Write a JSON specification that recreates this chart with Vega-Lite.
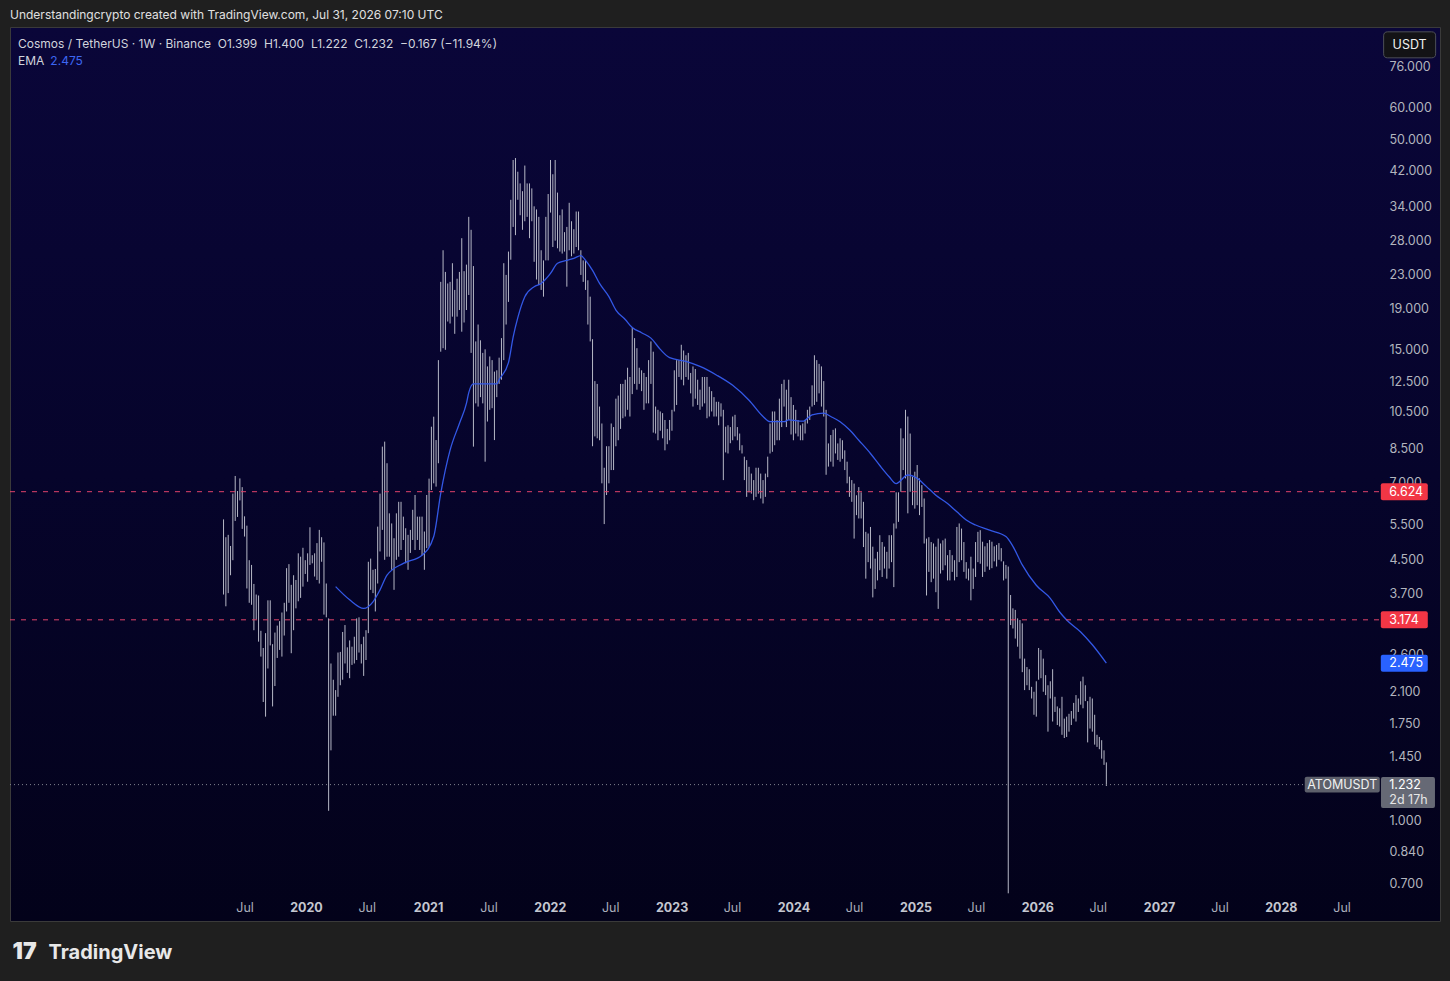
{
  "$schema": "https://vega.github.io/schema/vega-lite/v6.json",
  "width": 1430,
  "height": 894,
  "autosize": "none",
  "padding": {"left": 10, "top": 27, "right": 10, "bottom": 60},
  "background": "#1f1f1f",
  "title": {
    "text": "Understandingcrypto created with TradingView.com, Jul 31, 2026 07:10 UTC",
    "anchor": "start", "frame": "group", "offset": 5,
    "font": "Inter", "fontSize": 12, "fontWeight": "normal", "color": "#e0e0e0"
  },
  "config": {
    "font": "Inter",
    "view": {
      "stroke": "#3a3a3a",
      "fill": {"gradient": "linear", "x1": 0, "y1": 0, "x2": 0, "y2": 1,
        "stops": [{"offset": 0, "color": "#0a0639"}, {"offset": 0.5, "color": "#06042b"}, {"offset": 1, "color": "#03021a"}]}
    }
  },
  "datasets": {
    "bars": [
      {"d":"2019-04-29","h":5.65,"l":3.67},{"d":"2019-05-06","h":5.1,"l":3.43},{"d":"2019-05-13","h":5.17,"l":3.7},{"d":"2019-05-20","h":4.85,"l":4.1},
      {"d":"2019-05-27","h":6.55,"l":4.47},{"d":"2019-06-03","h":7.25,"l":5.6},{"d":"2019-06-10","h":6.65,"l":5.73},{"d":"2019-06-17","h":7.15,"l":6.3},
      {"d":"2019-06-24","h":6.8,"l":5.35},{"d":"2019-07-01","h":5.75,"l":5.12},{"d":"2019-07-08","h":5.45,"l":3.8},{"d":"2019-07-15","h":4.47,"l":3.5},
      {"d":"2019-07-22","h":4.35,"l":3.46},{"d":"2019-07-29","h":3.9,"l":2.99},{"d":"2019-08-05","h":3.67,"l":3.18},{"d":"2019-08-12","h":3.65,"l":2.8},
      {"d":"2019-08-19","h":2.98,"l":2.57},{"d":"2019-08-26","h":2.7,"l":1.98},{"d":"2019-09-02","h":2.94,"l":1.82},{"d":"2019-09-09","h":3.55,"l":2.4},
      {"d":"2019-09-16","h":3.55,"l":2.74},{"d":"2019-09-23","h":2.76,"l":1.93},{"d":"2019-09-30","h":2.95,"l":2.17},{"d":"2019-10-07","h":3.07,"l":2.55},
      {"d":"2019-10-14","h":3.15,"l":2.67},{"d":"2019-10-21","h":3.31,"l":2.57},{"d":"2019-10-28","h":3.5,"l":2.9},{"d":"2019-11-04","h":4.27,"l":3.33},
      {"d":"2019-11-11","h":4.37,"l":3.5},{"d":"2019-11-18","h":3.88,"l":2.62},{"d":"2019-11-25","h":4.1,"l":2.99},{"d":"2019-12-02","h":3.99,"l":3.39},
      {"d":"2019-12-09","h":4.65,"l":3.53},{"d":"2019-12-16","h":4.56,"l":3.6},{"d":"2019-12-23","h":4.8,"l":3.84},{"d":"2019-12-30","h":4.47,"l":4.13},
      {"d":"2020-01-06","h":4.65,"l":3.95},{"d":"2020-01-13","h":5.4,"l":4.35},{"d":"2020-01-20","h":4.6,"l":4.39},{"d":"2020-01-27","h":4.65,"l":4.07},
      {"d":"2020-02-03","h":4.93,"l":3.99},{"d":"2020-02-10","h":5.32,"l":3.91},{"d":"2020-02-17","h":5.1,"l":4.43},{"d":"2020-02-24","h":4.95,"l":3.27},
      {"d":"2020-03-02","h":3.91,"l":3.22},{"d":"2020-03-09","h":3.2,"l":1.06},{"d":"2020-03-16","h":2.47,"l":1.5},{"d":"2020-03-23","h":2.25,"l":1.83},
      {"d":"2020-03-30","h":2.12,"l":1.83},{"d":"2020-04-06","h":2.63,"l":2.04},{"d":"2020-04-13","h":2.64,"l":2.18},{"d":"2020-04-20","h":2.96,"l":2.25},
      {"d":"2020-04-27","h":3.08,"l":2.47},{"d":"2020-05-04","h":2.71,"l":2.34},{"d":"2020-05-11","h":2.82,"l":2.27},{"d":"2020-05-18","h":2.72,"l":2.45},
      {"d":"2020-05-25","h":2.88,"l":2.47},{"d":"2020-06-01","h":3.2,"l":2.52},{"d":"2020-06-08","h":3.22,"l":2.63},{"d":"2020-06-15","h":2.76,"l":2.47},
      {"d":"2020-06-22","h":2.88,"l":2.3},{"d":"2020-06-29","h":2.99,"l":2.52},{"d":"2020-07-06","h":4.43,"l":2.94},{"d":"2020-07-13","h":4.51,"l":3.77},
      {"d":"2020-07-20","h":4.23,"l":3.7},{"d":"2020-07-27","h":4.25,"l":3.33},{"d":"2020-08-03","h":5.42,"l":3.91},{"d":"2020-08-10","h":6.55,"l":4.7},
      {"d":"2020-08-17","h":8.58,"l":5.32},{"d":"2020-08-24","h":8.83,"l":4.48},{"d":"2020-08-31","h":7.8,"l":4.56},{"d":"2020-09-07","h":5.85,"l":4.56},
      {"d":"2020-09-14","h":5.52,"l":4.23},{"d":"2020-09-21","h":5.07,"l":3.77},{"d":"2020-09-28","h":5.85,"l":4.48},{"d":"2020-10-05","h":6.25,"l":4.56},
      {"d":"2020-10-12","h":6.25,"l":4.74},{"d":"2020-10-19","h":5.74,"l":5.02},{"d":"2020-10-26","h":5.37,"l":4.39},{"d":"2020-11-02","h":5.17,"l":4.23},
      {"d":"2020-11-09","h":5.32,"l":4.66},{"d":"2020-11-16","h":5.97,"l":5.02},{"d":"2020-11-23","h":6.5,"l":4.74},{"d":"2020-11-30","h":5.74,"l":5.02},
      {"d":"2020-12-07","h":5.74,"l":4.74},{"d":"2020-12-14","h":5.74,"l":4.6},{"d":"2020-12-21","h":5.27,"l":4.23},{"d":"2020-12-28","h":6.5,"l":4.79},
      {"d":"2021-01-04","h":7.14,"l":4.83},{"d":"2021-01-11","h":9.62,"l":6.69},{"d":"2021-01-18","h":10.19,"l":6.95},{"d":"2021-01-25","h":8.91,"l":6.82},
      {"d":"2021-02-01","h":14.1,"l":7.8},{"d":"2021-02-08","h":22.1,"l":14.8},{"d":"2021-02-15","h":26.5,"l":15.1},{"d":"2021-02-22","h":23.4,"l":14.96},
      {"d":"2021-03-01","h":21.9,"l":17.6},{"d":"2021-03-08","h":22.1,"l":17.4},{"d":"2021-03-15","h":24.6,"l":18.1},{"d":"2021-03-22","h":21.1,"l":16.4},
      {"d":"2021-03-29","h":22.5,"l":18.1},{"d":"2021-04-05","h":23.4,"l":18.8},{"d":"2021-04-12","h":28.4,"l":16.6},{"d":"2021-04-19","h":23.5,"l":17.5},
      {"d":"2021-04-26","h":24.4,"l":18.8},{"d":"2021-05-03","h":32.1,"l":20.5},{"d":"2021-05-10","h":29.8,"l":14.7},{"d":"2021-05-17","h":24.2,"l":8.58},
      {"d":"2021-05-24","h":15.7,"l":11.0},{"d":"2021-05-31","h":17.3,"l":10.8},{"d":"2021-06-07","h":15.8,"l":11.4},{"d":"2021-06-14","h":14.7,"l":11.0},
      {"d":"2021-06-21","h":15.0,"l":7.87},{"d":"2021-06-28","h":13.6,"l":9.91},{"d":"2021-07-05","h":14.4,"l":10.6},{"d":"2021-07-12","h":14.1,"l":10.7},
      {"d":"2021-07-19","h":13.2,"l":8.91},{"d":"2021-07-26","h":13.3,"l":11.4},{"d":"2021-08-02","h":14.3,"l":12.3},{"d":"2021-08-09","h":16.0,"l":12.6},
      {"d":"2021-08-16","h":24.6,"l":14.1},{"d":"2021-08-23","h":23.0,"l":17.3},{"d":"2021-08-30","h":26.3,"l":19.7},{"d":"2021-09-06","h":35.4,"l":25.1},
      {"d":"2021-09-13","h":44.5,"l":30.3},{"d":"2021-09-20","h":45.0,"l":28.9},{"d":"2021-09-27","h":41.6,"l":35.4},{"d":"2021-10-04","h":38.9,"l":32.4},
      {"d":"2021-10-11","h":37.2,"l":29.8},{"d":"2021-10-18","h":43.1,"l":31.3},{"d":"2021-10-25","h":38.9,"l":32.1},{"d":"2021-11-01","h":38.9,"l":28.4},
      {"d":"2021-11-08","h":37.8,"l":31.3},{"d":"2021-11-15","h":34.1,"l":24.8},{"d":"2021-11-22","h":33.5,"l":22.4},{"d":"2021-11-29","h":32.1,"l":21.7},
      {"d":"2021-12-06","h":26.5,"l":21.1},{"d":"2021-12-13","h":25.0,"l":20.3},{"d":"2021-12-20","h":32.1,"l":25.0},{"d":"2021-12-27","h":36.6,"l":25.0},
      {"d":"2022-01-03","h":44.5,"l":32.9},{"d":"2022-01-10","h":41.0,"l":27.0},{"d":"2022-01-17","h":44.5,"l":28.0},{"d":"2022-01-24","h":36.9,"l":26.8},
      {"d":"2022-01-31","h":32.4,"l":26.3},{"d":"2022-02-07","h":33.5,"l":26.0},{"d":"2022-02-14","h":29.4,"l":26.3},{"d":"2022-02-21","h":30.3,"l":21.5},
      {"d":"2022-02-28","h":34.8,"l":26.5},{"d":"2022-03-07","h":31.3,"l":25.6},{"d":"2022-03-14","h":29.9,"l":26.0},{"d":"2022-03-21","h":33.1,"l":27.0},
      {"d":"2022-03-28","h":33.1,"l":26.5},{"d":"2022-04-04","h":26.5,"l":23.0},{"d":"2022-04-11","h":25.0,"l":22.1},{"d":"2022-04-18","h":25.0,"l":21.1},
      {"d":"2022-04-25","h":22.3,"l":17.3},{"d":"2022-05-02","h":20.3,"l":15.7},{"d":"2022-05-09","h":15.9,"l":8.6},{"d":"2022-05-16","h":12.5,"l":9.1},
      {"d":"2022-05-23","h":12.3,"l":9.0},{"d":"2022-05-30","h":10.8,"l":8.9},{"d":"2022-06-06","h":9.8,"l":6.95},{"d":"2022-06-13","h":7.6,"l":5.5},
      {"d":"2022-06-20","h":8.6,"l":6.5},{"d":"2022-06-27","h":8.6,"l":6.95},{"d":"2022-07-04","h":9.8,"l":7.5},{"d":"2022-07-11","h":9.6,"l":7.5},
      {"d":"2022-07-18","h":11.3,"l":8.6},{"d":"2022-07-25","h":11.5,"l":8.9},{"d":"2022-08-01","h":12.3,"l":9.5},{"d":"2022-08-08","h":12.3,"l":10.1},
      {"d":"2022-08-15","h":12.6,"l":10.2},{"d":"2022-08-22","h":13.5,"l":10.6},{"d":"2022-08-29","h":12.8,"l":10.2},{"d":"2022-09-05","h":17.0,"l":11.6},
      {"d":"2022-09-12","h":16.0,"l":12.3},{"d":"2022-09-19","h":15.1,"l":11.9},{"d":"2022-09-26","h":13.5,"l":12.3},{"d":"2022-10-03","h":13.3,"l":11.8},
      {"d":"2022-10-10","h":13.1,"l":10.6},{"d":"2022-10-17","h":12.8,"l":11.0},{"d":"2022-10-24","h":14.1,"l":11.0},{"d":"2022-10-31","h":15.7,"l":12.3},
      {"d":"2022-11-07","h":14.8,"l":9.3},{"d":"2022-11-14","h":10.8,"l":9.25},{"d":"2022-11-21","h":10.6,"l":8.9},{"d":"2022-11-28","h":10.5,"l":9.4},
      {"d":"2022-12-05","h":10.4,"l":9.0},{"d":"2022-12-12","h":10.0,"l":8.4},{"d":"2022-12-19","h":9.5,"l":8.7},{"d":"2022-12-26","h":10.0,"l":8.9},
      {"d":"2023-01-02","h":10.6,"l":9.4},{"d":"2023-01-09","h":13.3,"l":10.5},{"d":"2023-01-16","h":14.1,"l":10.9},{"d":"2023-01-23","h":14.1,"l":12.8},
      {"d":"2023-01-30","h":15.4,"l":12.6},{"d":"2023-02-06","h":14.9,"l":12.2},{"d":"2023-02-13","h":14.5,"l":12.8},{"d":"2023-02-20","h":14.7,"l":12.6},
      {"d":"2023-02-27","h":13.1,"l":11.65},{"d":"2023-03-06","h":13.6,"l":10.8},{"d":"2023-03-13","h":13.4,"l":11.3},{"d":"2023-03-20","h":12.6,"l":10.9},
      {"d":"2023-03-27","h":11.9,"l":10.6},{"d":"2023-04-03","h":12.8,"l":10.8},{"d":"2023-04-10","h":12.8,"l":11.0},{"d":"2023-04-17","h":12.8,"l":10.1},
      {"d":"2023-04-24","h":12.1,"l":10.2},{"d":"2023-05-01","h":11.8,"l":10.5},{"d":"2023-05-08","h":11.4,"l":10.2},{"d":"2023-05-15","h":11.1,"l":10.2},
      {"d":"2023-05-22","h":11.1,"l":9.7},{"d":"2023-05-29","h":11.0,"l":10.2},{"d":"2023-06-05","h":10.6,"l":7.08},{"d":"2023-06-12","h":9.62,"l":8.3},
      {"d":"2023-06-19","h":9.7,"l":8.25},{"d":"2023-06-26","h":9.6,"l":8.75},{"d":"2023-07-03","h":10.2,"l":8.9},{"d":"2023-07-10","h":10.3,"l":9.1},
      {"d":"2023-07-17","h":9.6,"l":8.9},{"d":"2023-07-24","h":9.25,"l":8.4},{"d":"2023-07-31","h":8.65,"l":8.25},{"d":"2023-08-07","h":8.1,"l":7.08},
      {"d":"2023-08-14","h":7.94,"l":6.43},{"d":"2023-08-21","h":7.64,"l":6.6},{"d":"2023-08-28","h":7.35,"l":6.55},{"d":"2023-09-04","h":7.08,"l":6.31},
      {"d":"2023-09-11","h":7.6,"l":6.43},{"d":"2023-09-18","h":7.6,"l":6.55},{"d":"2023-09-25","h":7.35,"l":6.37},{"d":"2023-10-02","h":7.08,"l":6.19},
      {"d":"2023-10-09","h":7.35,"l":6.43},{"d":"2023-10-16","h":8.1,"l":7.2},{"d":"2023-10-23","h":9.8,"l":8.25},{"d":"2023-10-30","h":10.5,"l":8.33},
      {"d":"2023-11-06","h":10.5,"l":8.65},{"d":"2023-11-13","h":10.0,"l":8.9},{"d":"2023-11-20","h":11.3,"l":8.9},{"d":"2023-11-27","h":12.3,"l":9.6},
      {"d":"2023-12-04","h":12.6,"l":10.8},{"d":"2023-12-11","h":11.9,"l":9.6},{"d":"2023-12-18","h":12.6,"l":10.0},{"d":"2023-12-25","h":11.4,"l":9.2},
      {"d":"2024-01-01","h":10.9,"l":8.9},{"d":"2024-01-08","h":10.6,"l":9.25},{"d":"2024-01-15","h":10.0,"l":9.1},{"d":"2024-01-22","h":9.7,"l":8.9},
      {"d":"2024-01-29","h":9.8,"l":8.9},{"d":"2024-02-05","h":10.0,"l":9.25},{"d":"2024-02-12","h":10.6,"l":9.8},{"d":"2024-02-19","h":10.8,"l":10.0},
      {"d":"2024-02-26","h":12.2,"l":10.8},{"d":"2024-03-04","h":14.5,"l":10.9},{"d":"2024-03-11","h":14.1,"l":11.1},{"d":"2024-03-18","h":13.8,"l":11.65},
      {"d":"2024-03-25","h":13.6,"l":10.8},{"d":"2024-04-01","h":12.5,"l":10.2},{"d":"2024-04-08","h":10.6,"l":7.3},{"d":"2024-04-15","h":8.74,"l":7.65},
      {"d":"2024-04-22","h":9.17,"l":7.87},{"d":"2024-04-29","h":9.45,"l":7.65},{"d":"2024-05-06","h":9.53,"l":8.25},{"d":"2024-05-13","h":8.74,"l":7.95},
      {"d":"2024-05-20","h":9.0,"l":7.87},{"d":"2024-05-27","h":8.9,"l":8.0},{"d":"2024-06-03","h":8.4,"l":7.5},{"d":"2024-06-10","h":7.87,"l":6.95},
      {"d":"2024-06-17","h":7.22,"l":6.43},{"d":"2024-06-24","h":7.08,"l":6.25},{"d":"2024-07-01","h":6.94,"l":5.06},{"d":"2024-07-08","h":6.49,"l":5.79},
      {"d":"2024-07-15","h":6.8,"l":5.68},{"d":"2024-07-22","h":6.6,"l":5.68},{"d":"2024-07-29","h":6.25,"l":4.82},{"d":"2024-08-05","h":5.26,"l":4.02},
      {"d":"2024-08-12","h":5.21,"l":4.42},{"d":"2024-08-19","h":5.41,"l":4.26},{"d":"2024-08-26","h":4.83,"l":3.61},{"d":"2024-09-02","h":4.51,"l":3.79},
      {"d":"2024-09-09","h":4.69,"l":3.98},{"d":"2024-09-16","h":5.16,"l":4.22},{"d":"2024-09-23","h":4.96,"l":4.06},{"d":"2024-09-30","h":4.83,"l":4.26},
      {"d":"2024-10-07","h":4.69,"l":4.02},{"d":"2024-10-14","h":5.16,"l":4.26},{"d":"2024-10-21","h":5.16,"l":4.42},{"d":"2024-10-28","h":5.52,"l":3.83},
      {"d":"2024-11-04","h":6.6,"l":5.36},{"d":"2024-11-11","h":6.6,"l":5.57},{"d":"2024-11-18","h":9.53,"l":6.62},{"d":"2024-11-25","h":9.0,"l":7.5},
      {"d":"2024-12-02","h":10.6,"l":7.15},{"d":"2024-12-09","h":10.2,"l":5.85},{"d":"2024-12-16","h":9.25,"l":6.62},{"d":"2024-12-23","h":7.22,"l":6.13},
      {"d":"2024-12-30","h":7.43,"l":6.01},{"d":"2025-01-06","h":7.72,"l":6.13},{"d":"2025-01-13","h":7.15,"l":5.79},{"d":"2025-01-20","h":6.88,"l":6.07},
      {"d":"2025-01-27","h":6.37,"l":4.92},{"d":"2025-02-03","h":5.06,"l":3.65},{"d":"2025-02-10","h":5.1,"l":4.18},{"d":"2025-02-17","h":4.96,"l":3.94},
      {"d":"2025-02-24","h":4.92,"l":4.02},{"d":"2025-03-03","h":4.83,"l":3.72},{"d":"2025-03-10","h":5.06,"l":3.38},{"d":"2025-03-17","h":4.92,"l":4.14},
      {"d":"2025-03-24","h":5.01,"l":4.22},{"d":"2025-03-31","h":5.06,"l":4.34},{"d":"2025-04-07","h":4.6,"l":3.98},{"d":"2025-04-14","h":4.74,"l":3.98},
      {"d":"2025-04-21","h":4.6,"l":4.18},{"d":"2025-04-28","h":4.47,"l":3.98},{"d":"2025-05-05","h":5.41,"l":4.06},{"d":"2025-05-12","h":5.52,"l":4.42},
      {"d":"2025-05-19","h":5.36,"l":4.47},{"d":"2025-05-26","h":4.96,"l":4.18},{"d":"2025-06-02","h":4.42,"l":4.02},{"d":"2025-06-09","h":4.26,"l":3.98},
      {"d":"2025-06-16","h":4.56,"l":3.55},{"d":"2025-06-23","h":4.26,"l":3.79},{"d":"2025-06-30","h":4.96,"l":4.06},{"d":"2025-07-07","h":5.26,"l":4.42},
      {"d":"2025-07-14","h":5.31,"l":4.38},{"d":"2025-07-21","h":4.97,"l":4.06},{"d":"2025-07-28","h":4.84,"l":4.18},{"d":"2025-08-04","h":4.93,"l":4.31},
      {"d":"2025-08-11","h":5.02,"l":4.23},{"d":"2025-08-18","h":4.97,"l":4.27},{"d":"2025-08-25","h":4.84,"l":4.44},{"d":"2025-09-01","h":4.88,"l":4.31},
      {"d":"2025-09-08","h":4.93,"l":4.48},{"d":"2025-09-15","h":4.79,"l":4.44},{"d":"2025-09-22","h":4.44,"l":3.98},{"d":"2025-09-29","h":4.35,"l":4.02},
      {"d":"2025-10-06","h":4.31,"l":0.66},{"d":"2025-10-13","h":3.66,"l":3.08},{"d":"2025-10-20","h":3.39,"l":3.02},{"d":"2025-10-27","h":3.36,"l":2.85},
      {"d":"2025-11-03","h":3.2,"l":2.72},{"d":"2025-11-10","h":3.17,"l":2.54},{"d":"2025-11-17","h":3.11,"l":2.35},{"d":"2025-11-24","h":2.54,"l":2.12},
      {"d":"2025-12-01","h":2.42,"l":2.18},{"d":"2025-12-08","h":2.39,"l":2.12},{"d":"2025-12-15","h":2.16,"l":2.02},{"d":"2025-12-22","h":2.1,"l":1.84},
      {"d":"2025-12-29","h":2.23,"l":1.82},{"d":"2026-01-05","h":2.7,"l":2.25},{"d":"2026-01-12","h":2.67,"l":2.27},{"d":"2026-01-19","h":2.54,"l":2.1},
      {"d":"2026-01-26","h":2.31,"l":2.06},{"d":"2026-02-02","h":2.18,"l":1.67},{"d":"2026-02-09","h":2.23,"l":2.02},{"d":"2026-02-16","h":2.39,"l":1.77},
      {"d":"2026-02-23","h":2.04,"l":1.87},{"d":"2026-03-02","h":1.93,"l":1.735},{"d":"2026-03-09","h":1.91,"l":1.72},{"d":"2026-03-16","h":2.04,"l":1.64},
      {"d":"2026-03-23","h":1.8,"l":1.61},{"d":"2026-03-30","h":1.82,"l":1.62},{"d":"2026-04-06","h":1.85,"l":1.67},{"d":"2026-04-13","h":1.88,"l":1.735},
      {"d":"2026-04-20","h":1.97,"l":1.8},{"d":"2026-04-27","h":2.06,"l":1.77},{"d":"2026-05-04","h":2.02,"l":1.87},{"d":"2026-05-11","h":2.23,"l":1.95},
      {"d":"2026-05-18","h":2.29,"l":1.91},{"d":"2026-05-25","h":2.18,"l":1.99},{"d":"2026-06-01","h":1.99,"l":1.57},{"d":"2026-06-08","h":2.04,"l":1.7},
      {"d":"2026-06-15","h":2.02,"l":1.67},{"d":"2026-06-22","h":1.84,"l":1.55},{"d":"2026-06-29","h":1.64,"l":1.53},{"d":"2026-07-06","h":1.62,"l":1.51},
      {"d":"2026-07-13","h":1.59,"l":1.43},{"d":"2026-07-20","h":1.5,"l":1.38},{"d":"2026-07-27","h":1.4,"l":1.222}
    ],
    "ema": [
      {"d":"2020-03-30","v":3.84},{"d":"2020-05-11","v":3.56},{"d":"2020-06-22","v":3.39},{"d":"2020-07-20","v":3.52},
      {"d":"2020-08-10","v":3.77},{"d":"2020-08-31","v":4.1},{"d":"2020-10-19","v":4.39},{"d":"2020-12-14","v":4.6},
      {"d":"2021-01-18","v":5.12},{"d":"2021-02-08","v":6.56},{"d":"2021-03-08","v":8.41},{"d":"2021-04-05","v":9.8},
      {"d":"2021-04-26","v":11.0},{"d":"2021-05-03","v":11.7},{"d":"2021-05-17","v":12.3},{"d":"2021-07-26","v":12.3},
      {"d":"2021-08-02","v":12.6},{"d":"2021-08-30","v":13.9},{"d":"2021-09-13","v":16.1},{"d":"2021-09-27","v":18.0},
      {"d":"2021-10-18","v":20.3},{"d":"2021-11-15","v":21.5},{"d":"2021-12-06","v":21.9},{"d":"2022-01-03","v":23.2},
      {"d":"2022-01-24","v":24.6},{"d":"2022-02-21","v":25.0},{"d":"2022-03-14","v":25.3},{"d":"2022-04-04","v":25.7},
      {"d":"2022-04-18","v":25.0},{"d":"2022-05-09","v":23.6},{"d":"2022-05-30","v":21.9},{"d":"2022-06-27","v":20.3},
      {"d":"2022-07-18","v":18.8},{"d":"2022-08-15","v":17.8},{"d":"2022-09-05","v":17.0},{"d":"2022-10-03","v":16.5},
      {"d":"2022-10-31","v":16.0},{"d":"2022-11-28","v":15.0},{"d":"2022-12-26","v":14.3},{"d":"2023-02-13","v":14.0},
      {"d":"2023-03-27","v":13.6},{"d":"2023-05-15","v":12.95},{"d":"2023-07-03","v":12.2},{"d":"2023-08-21","v":11.2},
      {"d":"2023-10-02","v":10.2},{"d":"2023-10-23","v":9.9},{"d":"2023-12-04","v":9.9},{"d":"2023-12-18","v":10.0},
      {"d":"2024-01-29","v":9.93},{"d":"2024-02-26","v":10.3},{"d":"2024-04-01","v":10.4},{"d":"2024-04-22","v":10.2},
      {"d":"2024-05-20","v":9.9},{"d":"2024-06-17","v":9.45},{"d":"2024-07-15","v":8.9},{"d":"2024-08-19","v":8.25},
      {"d":"2024-09-16","v":7.7},{"d":"2024-10-14","v":7.22},{"d":"2024-11-04","v":6.94},{"d":"2024-12-09","v":7.29},
      {"d":"2025-01-06","v":7.15},{"d":"2025-02-03","v":6.82},{"d":"2025-03-03","v":6.49},{"d":"2025-04-07","v":6.19},
      {"d":"2025-05-05","v":5.9},{"d":"2025-06-02","v":5.63},{"d":"2025-06-30","v":5.47},{"d":"2025-08-11","v":5.31},
      {"d":"2025-09-29","v":5.12},{"d":"2025-10-20","v":4.84},{"d":"2025-11-17","v":4.35},{"d":"2025-12-29","v":3.87},
      {"d":"2026-02-09","v":3.59},{"d":"2026-03-09","v":3.32},{"d":"2026-03-30","v":3.17},{"d":"2026-05-11","v":2.96},
      {"d":"2026-06-15","v":2.75},{"d":"2026-07-27","v":2.475}
    ],
    "levels": [
      {"v": 6.624, "kind": "alert"},
      {"v": 3.174, "kind": "alert"},
      {"v": 2.475, "kind": "ema"}
    ],
    "last": [
      {"v": 1.232, "sym": "ATOMUSDT", "left": "2d 17h"}
    ]
  },
  "layer": [
    {
      "data": {"name": "bars"},
      "mark": {"type": "rule", "strokeWidth": 1, "color": "#b6b8c6"},
      "encoding": {
        "x": {
          "field": "d", "type": "temporal",
          "scale": {"type": "utc", "domain": [{"year": 2017, "month": 7, "date": 28, "utc": true}, {"year": 2029, "month": 4, "date": 22, "utc": true}]},
          "axis": {
            "orient": "bottom", "offset": -24,
            "values": [
              {"year": 2019, "month": 7, "date": 1, "utc": true}, {"year": 2020, "month": 1, "date": 1, "utc": true},
              {"year": 2020, "month": 7, "date": 1, "utc": true}, {"year": 2021, "month": 1, "date": 1, "utc": true},
              {"year": 2021, "month": 7, "date": 1, "utc": true}, {"year": 2022, "month": 1, "date": 1, "utc": true},
              {"year": 2022, "month": 7, "date": 1, "utc": true}, {"year": 2023, "month": 1, "date": 1, "utc": true},
              {"year": 2023, "month": 7, "date": 1, "utc": true}, {"year": 2024, "month": 1, "date": 1, "utc": true},
              {"year": 2024, "month": 7, "date": 1, "utc": true}, {"year": 2025, "month": 1, "date": 1, "utc": true},
              {"year": 2025, "month": 7, "date": 1, "utc": true}, {"year": 2026, "month": 1, "date": 1, "utc": true},
              {"year": 2026, "month": 7, "date": 1, "utc": true}, {"year": 2027, "month": 1, "date": 1, "utc": true},
              {"year": 2027, "month": 7, "date": 1, "utc": true}, {"year": 2028, "month": 1, "date": 1, "utc": true},
              {"year": 2028, "month": 7, "date": 1, "utc": true}
            ],
            "labelExpr": "utcmonth(datum.value) == 0 ? utcFormat(datum.value, '%Y') : 'Jul'",
            "labelFontWeight": {"condition": {"test": "utcmonth(datum.value) == 0", "value": "bold"}, "value": "normal"},
            "labelColor": {"condition": {"test": "utcmonth(datum.value) == 0", "value": "#c4c7d0"}, "value": "#a9adb9"},
            "ticks": false, "tickSize": 0, "domain": false, "grid": false,
            "labelPadding": 4, "labelBaseline": "top", "labelFontSize": 12.5, "labelFont": "Inter",
            "labelOverlap": false, "labelFlush": false,
            "title": "TradingView", "titleFont": "Inter", "titleFontSize": 20, "titleFontWeight": 700,
            "titleColor": "#e8e8e8", "titleX": 38, "titleY": 61, "titleAlign": "left", "titleBaseline": "alphabetic", "titleAnchor": "start",
            "zindex": 0
          }
        },
        "y": {
          "field": "l", "type": "quantitative",
          "scale": {"type": "log", "domain": [0.563, 95.5], "nice": false},
          "axis": {
            "orient": "right", "offset": -62,
            "values": [0.7, 0.84, 1, 1.45, 1.75, 2.1, 2.6, 3.7, 4.5, 5.5, 7, 8.5, 10.5, 12.5, 15, 19, 23, 28, 34, 42, 50, 60, 76],
            "format": ".3f",
            "ticks": false, "tickSize": 0, "domain": false, "grid": false,
            "labelAlign": "left", "labelBaseline": "middle", "labelPadding": 11,
            "labelColor": "#b2b5be", "labelFontSize": 12.5, "labelFont": "Inter",
            "labelOverlap": false, "labelFlush": false,
            "title": "17", "titleFont": "Inter", "titleFontSize": 23, "titleFontWeight": 900,
            "titleColor": "#e8e8e8", "titleAngle": 0, "titleX": -1366, "titleY": 931,
            "titleAlign": "left", "titleBaseline": "alphabetic",
            "zindex": 0
          }
        },
        "y2": {"field": "h"}
      }
    },
    {
      "data": {"name": "ema"},
      "mark": {"type": "line", "color": "#3358e6", "strokeWidth": 1.3, "interpolate": "monotone"},
      "encoding": {
        "x": {"field": "d", "type": "temporal"},
        "y": {"field": "v", "type": "quantitative"}
      }
    },
    {
      "data": {"name": "levels"},
      "transform": [{"filter": "datum.kind == 'alert'"}],
      "mark": {"type": "rule", "color": "#e0436a", "strokeWidth": 1, "strokeDash": [5, 6]},
      "encoding": {
        "x": {"datum": {"year": 2017, "month": 7, "date": 28, "utc": true}, "type": "temporal"},
        "x2": {"datum": {"year": 2028, "month": 10, "date": 23, "utc": true}},
        "y": {"field": "v", "type": "quantitative"}
      }
    },
    {
      "data": {"name": "last"},
      "mark": {"type": "rule", "color": "#80838f", "strokeWidth": 1, "strokeDash": [1, 3]},
      "encoding": {
        "x": {"datum": {"year": 2017, "month": 7, "date": 28, "utc": true}, "type": "temporal"},
        "x2": {"datum": {"year": 2028, "month": 3, "date": 13, "utc": true}},
        "y": {"field": "v", "type": "quantitative"}
      }
    },
    {
      "data": {"name": "levels"},
      "mark": {
        "type": "point", "filled": true, "opacity": 1, "size": 2209,
        "shape": "M-0.915,-0.362 L0.915,-0.362 Q1,-0.362 1,-0.277 L1,0.277 Q1,0.362 0.915,0.362 L-0.915,0.362 Q-1,0.362 -1,0.277 L-1,-0.277 Q-1,-0.362 -0.915,-0.362 Z"
      },
      "encoding": {
        "x": {"datum": {"year": 2029, "month": 1, "date": 5, "utc": true}, "type": "temporal"},
        "y": {"field": "v", "type": "quantitative"},
        "color": {"field": "kind", "type": "nominal", "scale": {"domain": ["alert", "ema"], "range": ["#f23645", "#2962ff"]}, "legend": null}
      }
    },
    {
      "data": {"name": "levels"},
      "mark": {"type": "text", "align": "left", "baseline": "middle", "font": "Inter", "fontSize": 12.5, "color": "#ffffff"},
      "encoding": {
        "x": {"datum": {"year": 2028, "month": 11, "date": 21, "utc": true}, "type": "temporal"},
        "y": {"field": "v", "type": "quantitative"},
        "text": {"field": "v", "type": "quantitative", "format": ".3f"}
      }
    },
    {
      "data": {"name": "last"},
      "mark": {
        "type": "point", "filled": true, "opacity": 1, "size": 5625, "color": "#5d606b",
        "shape": "M-0.947,-0.213 L0.947,-0.213 Q1,-0.213 1,-0.16 L1,0.16 Q1,0.213 0.947,0.213 L-0.947,0.213 Q-1,0.213 -1,0.16 L-1,-0.16 Q-1,-0.213 -0.947,-0.213 Z"
      },
      "encoding": {
        "x": {"datum": {"year": 2028, "month": 7, "date": 3, "utc": true}, "type": "temporal"},
        "y": {"field": "v", "type": "quantitative"}
      }
    },
    {
      "data": {"name": "last"},
      "mark": {
        "type": "point", "filled": true, "opacity": 1, "size": 2916, "color": "#666975",
        "shape": "M-0.926,-0.285 L0.926,-0.285 Q1,-0.285 1,-0.211 L1,0.789 Q1,0.863 0.926,0.863 L-0.926,0.863 Q-1,0.863 -1,0.789 L-1,-0.211 Q-1,-0.285 -0.926,-0.285 Z"
      },
      "encoding": {
        "x": {"datum": {"year": 2029, "month": 1, "date": 16, "utc": true}, "type": "temporal"},
        "y": {"field": "v", "type": "quantitative"}
      }
    },
    {
      "data": {"name": "last"},
      "mark": {"type": "text", "align": "center", "baseline": "middle", "font": "Inter", "fontSize": 12.5, "color": "#f0f0f0"},
      "encoding": {
        "x": {"datum": {"year": 2028, "month": 7, "date": 3, "utc": true}, "type": "temporal"},
        "y": {"field": "v", "type": "quantitative"},
        "text": {"field": "sym", "type": "nominal"}
      }
    },
    {
      "data": {"name": "last"},
      "mark": {"type": "text", "align": "left", "baseline": "middle", "font": "Inter", "fontSize": 12.5, "color": "#ffffff"},
      "encoding": {
        "x": {"datum": {"year": 2028, "month": 11, "date": 21, "utc": true}, "type": "temporal"},
        "y": {"field": "v", "type": "quantitative"},
        "text": {"field": "v", "type": "quantitative", "format": ".3f"}
      }
    },
    {
      "data": {"name": "last"},
      "mark": {"type": "text", "align": "left", "baseline": "middle", "dy": 15, "font": "Inter", "fontSize": 12.5, "color": "#e6e6e6"},
      "encoding": {
        "x": {"datum": {"year": 2028, "month": 11, "date": 21, "utc": true}, "type": "temporal"},
        "y": {"field": "v", "type": "quantitative"},
        "text": {"field": "left", "type": "nominal"}
      }
    },
    {
      "data": {"values": [{"unit": "USDT"}]},
      "mark": {
        "type": "point", "filled": true, "opacity": 1, "size": 2704, "fill": "#131316", "stroke": "#4d4f57", "strokeWidth": 1,
        "shape": "M-0.846,-0.5 L0.846,-0.5 Q1,-0.5 1,-0.346 L1,0.346 Q1,0.5 0.846,0.5 L-0.846,0.5 Q-1,0.5 -1,0.346 L-1,-0.346 Q-1,-0.5 -0.846,-0.5 Z"
      },
      "encoding": {
        "x": {"datum": {"year": 2029, "month": 1, "date": 21, "utc": true}, "type": "temporal"},
        "y": {"datum": 86.2, "type": "quantitative"}
      }
    },
    {
      "data": {"values": [{"unit": "USDT"}]},
      "mark": {"type": "text", "align": "center", "baseline": "middle", "font": "Inter", "fontSize": 12.5, "color": "#f0f0f0"},
      "encoding": {
        "x": {"datum": {"year": 2029, "month": 1, "date": 21, "utc": true}, "type": "temporal"},
        "y": {"datum": 86.2, "type": "quantitative"},
        "text": {"field": "unit", "type": "nominal"}
      }
    },
    {
      "data": {"values": [{"t": "Cosmos / TetherUS · 1W · Binance \u00a0O1.399 \u00a0H1.400 \u00a0L1.222 \u00a0C1.232 \u00a0−0.167 (−11.94%)"}]},
      "mark": {"type": "text", "align": "left", "baseline": "middle", "font": "Inter", "fontSize": 12, "color": "#d1d4dc"},
      "encoding": {
        "x": {"datum": {"year": 2017, "month": 8, "date": 21, "utc": true}, "type": "temporal"},
        "y": {"datum": 86.6, "type": "quantitative"},
        "text": {"field": "t", "type": "nominal"}
      }
    },
    {
      "data": {"values": [{"t": "EMA"}]},
      "mark": {"type": "text", "align": "left", "baseline": "middle", "font": "Inter", "fontSize": 12, "color": "#d1d4dc"},
      "encoding": {
        "x": {"datum": {"year": 2017, "month": 8, "date": 21, "utc": true}, "type": "temporal"},
        "y": {"datum": 78.4, "type": "quantitative"},
        "text": {"field": "t", "type": "nominal"}
      }
    },
    {
      "data": {"values": [{"t": "2.475"}]},
      "mark": {"type": "text", "align": "left", "baseline": "middle", "font": "Inter", "fontSize": 12, "color": "#3d66f2"},
      "encoding": {
        "x": {"datum": {"year": 2017, "month": 11, "date": 26, "utc": true}, "type": "temporal"},
        "y": {"datum": 78.4, "type": "quantitative"},
        "text": {"field": "t", "type": "nominal"}
      }
    }
  ]
}
